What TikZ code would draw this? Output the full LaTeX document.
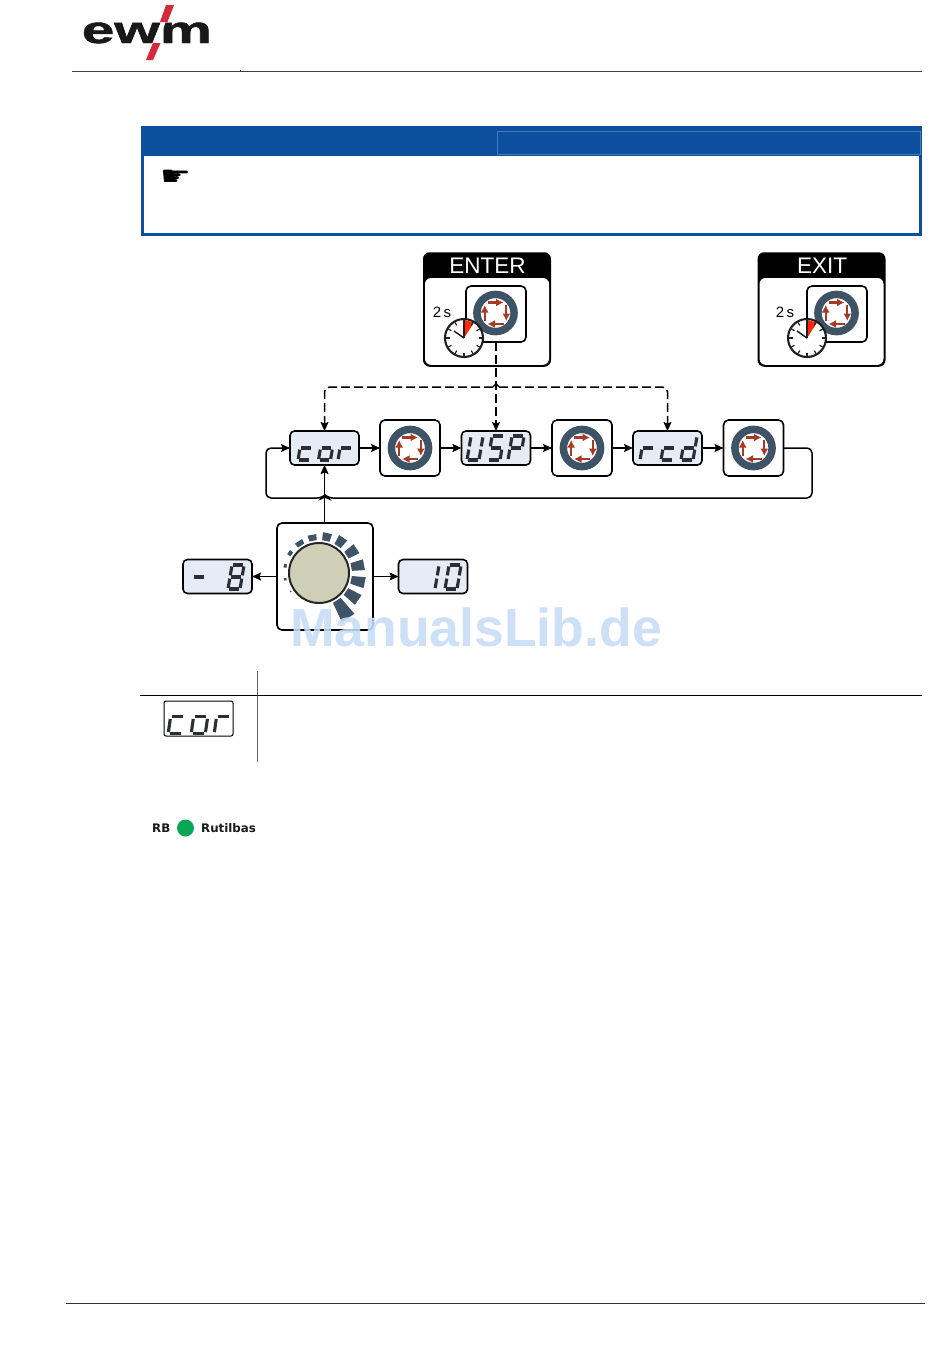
\documentclass[tikz,border=0pt]{standalone}
\usepackage{fontspec}
\setmainfont{Liberation Sans}
\newfontfamily\dejavu{DejaVu Sans}
\newfontfamily\logofont[BoldFeatures={FakeBold=1.2}]{Liberation Sans}
\usetikzlibrary{arrows.meta}
\definecolor{ringc}{HTML}{3F5366}
\definecolor{arrc}{HTML}{A63A22}
\definecolor{dispc}{HTML}{E6ECF6}
\definecolor{segc}{HTML}{2B2F33}
\definecolor{bannerc}{HTML}{0B4F9E}
\definecolor{knobc}{HTML}{CFCFB8}
\definecolor{markc}{HTML}{C6DCF7}
\definecolor{logored}{HTML}{D5293A}
\definecolor{ledc}{HTML}{0AA655}
\tikzset{
  display/.style={draw=black,fill=dispc,line width=1.6pt,rounded corners=4.5pt,minimum width=69pt,minimum height=34pt,inner sep=0pt,outer sep=0pt,text opacity=0,font=\fontsize{14}{14}\selectfont},
  btn/.style={draw=black,fill=white,line width=1.6pt,rounded corners=5pt,minimum width=60pt,minimum height=56pt,inner sep=0pt,outer sep=0pt},
  link/.style={draw=black,line width=1.5pt,rounded corners=5pt},
  tip/.style={-{Stealth[length=9pt,width=8pt,inset=1.5pt]}},
  arr/.style={link,tip},
  dashlink/.style={link,dash pattern=on 9pt off 4pt},
  seg/.style={draw=segc,line width=3.1pt},
}
\newcommand\segdigit[4]{%
  \begin{scope}[shift={(#1,#2)},yscale=#4,xscale={1+(#4-1)*0.45},xslant=0.17]
    \foreach \s in {#3}{%
      \if\s a\draw[seg] (2.2,-24)--(11.8,-24);\fi
      \if\s b\draw[seg] (13,-22.6)--(13,-13.6);\fi
      \if\s c\draw[seg] (13,-10.4)--(13,-1.0);\fi
      \if\s d\draw[seg] (2.2,0)--(11.8,0);\fi
      \if\s e\draw[seg] (1,-10.4)--(1,-1.0);\fi
      \if\s f\draw[seg] (1,-22.6)--(1,-13.6);\fi
      \if\s g\draw[seg] (2.2,-12)--(11.8,-12);\fi
    }
  \end{scope}}
\newcommand\ringicon[2]{%
  \begin{scope}[shift={(#1,#2)}]
    \draw[ringc,line width=7.5pt,fill=white] (0,0) circle[radius=18.6pt];
    \begin{scope}[arrc,line width=2.1pt,-{Latex[length=7.5pt,width=8pt]}]
      \draw (-8,-10.5) -- (8,-10.5);
      \draw (10.8,-8) -- (10.8,8);
      \draw (8,11) -- (-8,11);
      \draw (-10.8,8) -- (-10.8,-8);
    \end{scope}
  \end{scope}}
\newcommand\clockicon[2]{%
  \begin{scope}[shift={(#1,#2)}]
    \fill[white] (0,0) circle[radius=19pt];
    \fill[red!70!orange] (0,0) -- (0.5,-18) -- (10,-15.5) -- cycle;
    \draw[black!88,line width=2.1pt] (0,0) circle[radius=19pt];
    \foreach \a in {0,30,...,330}{\draw[black!88,line width=1.2pt] (\a:14.5pt) -- (\a:18pt);}
    \draw[black!88,line width=1.5pt] (0,0) -- (-10,-7);
    \draw[black!88,line width=1.2pt] (0,0) -- (0,-18);
  \end{scope}}
\newcommand\timerbox[5]{%
  \node[draw=black,fill=black,line width=1.5pt,rounded corners=6pt,minimum width=126.5pt,minimum height=113pt,inner sep=0pt,outer sep=0pt] (#1) at (#2,309.5) {};
  \fill[white,rounded corners=6pt] (#2-62,278) rectangle (#2+62,364.8);
  \node[text=white,font=\fontsize{22.5}{22.5}\selectfont,inner sep=0pt] (#1txt) at (#2+0.5,266) {#3};
  \node[btn] (#1btn) at (#2+9+#5,314) {};
  \ringicon{#2+8.5+#5}{313}
  \clockicon{#2-23+#4}{338}
  \node[font=\fontsize{15}{15}\selectfont,inner sep=0pt] (#1s) at (#2-45+#4,312.5) {2\kern2.5pt s};
}
\begin{document}
\begin{tikzpicture}[x=1pt,y=-1pt]
\useasboundingbox[fill=white] (0,0) rectangle (950,1360);
% header
\draw[black!75,line width=1pt] (72,71) -- (922,71);
\draw[black!75,line width=1pt] (240,69.5) -- (240,71);
\node[font=\logofont\fontsize{38}{38}\selectfont\bfseries,xscale=1.54,transform shape,inner sep=0pt,anchor=base west,text=black!90] (logo) at (81.5,43) {ewm};
\draw[white,line width=3pt] (164,22) -- (156.5,43);
\fill[logored] (166,5) -- (174,5) -- (167.5,22) -- (160,22) -- cycle;
\fill[logored] (153,43) -- (160.5,43) -- (153,60) -- (146,60) -- cycle;
% banner
\node[draw=bannerc,line width=3.5pt,inner sep=0pt,minimum width=778pt,minimum height=106pt,outer sep=0pt] (note) at (531.5,181.5) {};
\fill[bannerc] (141,126) rectangle (922,155.5);
\draw[bannerc!75!white,line width=.6pt] (497,154.5) -- (497,131) -- (920,131) -- (920,154.5) -- cycle;
\node[font=\dejavu\fontsize{27}{27}\selectfont,inner sep=0pt,xscale=1.27,transform shape] (hand) at (175.5,177.5) {☛};
% timer boxes
\timerbox{enter}{487}{ENTER}{0}{0}
\timerbox{exit}{821.5}{EXIT}{8.5}{6.5}
% displays and buttons
\node[display] (cor) at (324.5,448) {cor};
\node[btn] (b1) at (410,448) {};
\node[display] (usp) at (496,448) {USP};
\node[btn] (b2) at (582,448) {};
\node[display] (rcd) at (667.5,448) {rcd};
\node[btn] (b3) at (753.5,448) {};
\ringicon{410}{448}
\ringicon{582}{448}
\ringicon{753.5}{448}
\segdigit{297}{460}{d,e,g}{1}
\segdigit{317.5}{460}{c,d,e,g}{1}
\segdigit{337}{460}{e,g}{1}
\segdigit{466}{460}{b,c,d,e,f}{1}
\segdigit{487}{460}{a,c,d,f,g}{1}
\segdigit{507}{460}{a,b,e,f,g}{1}
\segdigit{639}{460}{e,g}{1}
\segdigit{660}{460}{d,e,g}{1}
\segdigit{680}{460}{b,c,d,e,g}{1}
% knob
\node[btn,minimum width=96pt,minimum height=107pt] (knob) at (325,576.5) {};
\begin{scope}[shift={(319,573)}]
  \foreach \i/\ro/\w in {0/34.5/1,1/35.5/2,2/36/3,3/37/4,4/38/6.5,5/39/6.5,6/41/6.5,7/43/6.5,8/45/6.8,9/46/6.8,10/47/6.8,11/48/7,12/54/8}{
    \pgfmathsetmacro\a{213-22.5*\i}
    \fill[ringc] (\a-\w:33pt) -- (\a-\w:\ro pt) -- (\a+\w:\ro pt) -- (\a+\w:33pt) -- cycle;
  }
  \node[circle,draw=black!85,fill=knobc,line width=2pt,minimum size=60pt,inner sep=0pt] (dial) at (0,0) {};
\end{scope}
\node[display] (minus) at (217.5,576.5) {- 8};
\node[display] (ten) at (433,576.5) {10};
\segdigit{190}{589}{g}{1}
\segdigit{227}{589}{a,b,c,d,e,f,g}{1}
\segdigit{422}{589}{b,c}{1}
\segdigit{444}{589}{a,b,c,d,e,f}{1}
% connectors
\draw[arr] (cor) -- (b1);
\draw[arr] (b1) -- (usp);
\draw[arr] (usp) -- (b2);
\draw[arr] (b2) -- (rcd);
\draw[arr] (rcd) -- (b3);
\coordinate (loopa) at (812,498);
\coordinate (loopb) at (266,498);
\coordinate (hopr) at (328,498);
\coordinate (hopl) at (322,498);
\draw[arr] (b3.east) -- (812,448) -- (loopa) -- (hopr) -- (325,495) -- (hopl) -- (loopb) -- (266,448) -- (cor.west);
\draw[arr] (knob.north -| cor) -- (cor.south);
\draw[arr] (knob.west |- minus) -- (minus.east);
\draw[arr] (knob.east |- ten) -- (ten.west);
\coordinate (dashl) at (493,387);
\coordinate (dashr) at (499,387);
\coordinate (dashc) at (496,383.5);
\draw[dashlink,tip] (enterbtn.south -| usp) -- (usp.north);
\draw[black,line width=1.3pt] (dashl) -- (dashc) -- (dashr);
\draw[dashlink,tip] (dashl) -| (cor.north);
\draw[dashlink,tip] (dashr) -| (rcd.north);
% legend table
\draw[black!60,line width=1.1pt] (257.5,671) -- (257.5,762);
\draw[black,line width=1pt] (140,695) -- (922,695);
\node[display,fill=white,minimum width=69pt,minimum height=35pt,line width=1pt,rounded corners=2pt] (corlegend) at (198.5,718.5) {cor};
\segdigit{167}{733.5}{d,e,g}{1.4}
\segdigit{190}{733.5}{c,d,e,g}{1.4}
\segdigit{213}{733.5}{e,g}{1.4}
\node[anchor=base west,font=\dejavu\fontsize{11.8}{12}\selectfont\bfseries,inner sep=0pt,text=black!90] (rb) at (152,832) {RB};
\node[circle,fill=ledc,draw=none,minimum size=17pt,inner sep=0pt] (led) at (185.5,828) {};
\node[anchor=base west,font=\dejavu\fontsize{11.8}{12}\selectfont\bfseries,inner sep=0pt,text=black!90] (rutil) at (201,832) {Rutilbas};
% footer
\draw[black!80,line width=1pt] (66,1303) -- (925,1303);
% watermark
\node[anchor=base west,inner sep=0pt,font=\fontsize{53.5}{53.5}\selectfont\bfseries,text=markc,text opacity=.88] (mark) at (290,646) {ManualsLib.de};
\end{tikzpicture}
\end{document}
